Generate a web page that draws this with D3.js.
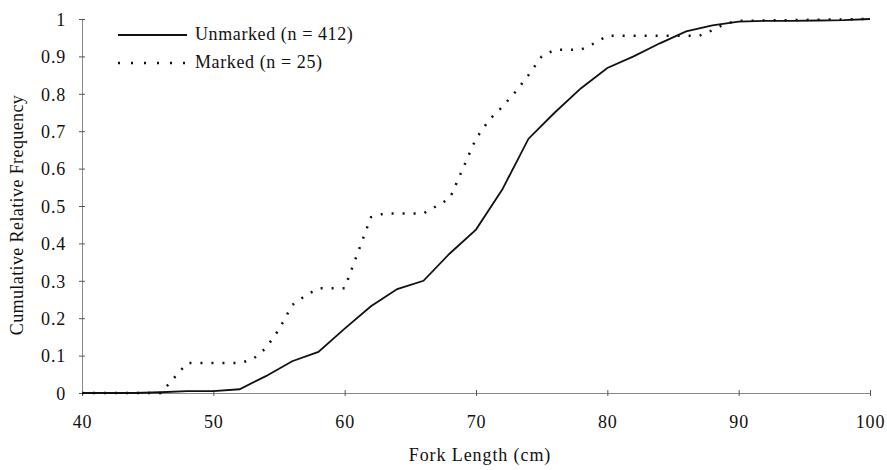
<!DOCTYPE html>
<html>
<head>
<meta charset="utf-8">
<script src="https://cdn.jsdelivr.net/npm/d3@7"></script>
<style>
  body { margin: 0; background: #fff; }
  svg text { font-family: "Liberation Serif", "Times New Roman", serif; fill: #111; }
</style>
</head>
<body>
<script>
// x values for each series (fork length, cm)
var unmarked_x = [40, 42, 44, 46, 48, 50, 52, 54, 56, 58, 60, 62, 64, 66, 68, 70, 72, 74, 76, 78, 80, 82, 84, 86, 88, 90, 92, 94, 96, 98, 100];
var unmarked_y = [0, 0, 0, 0.002, 0.005, 0.005, 0.01, 0.045, 0.085, 0.11, 0.172, 0.232, 0.278, 0.3, 0.373, 0.437, 0.544, 0.68, 0.75, 0.815, 0.869, 0.9, 0.935, 0.967, 0.983, 0.993, 0.995, 0.995, 0.996, 0.997, 1];

var marked_x = [40, 46, 47, 48, 52, 53, 54, 55, 56, 57, 58, 60, 61, 62, 63, 66, 67, 68, 69, 70, 71, 72, 73, 74, 75, 76, 78, 79, 80, 87, 88, 89, 90, 100];
var marked_y = [0, 0, 0.04, 0.08, 0.08, 0.09, 0.12, 0.17, 0.235, 0.26, 0.28, 0.28, 0.375, 0.47, 0.48, 0.48, 0.5, 0.52, 0.6, 0.68, 0.73, 0.765, 0.805, 0.85, 0.9, 0.918, 0.918, 0.935, 0.955, 0.955, 0.97, 0.988, 0.995, 1];

var x_ticks = [40, 50, 60, 70, 80, 90, 100];
var y_ticks = [0, 0.1, 0.2, 0.3, 0.4, 0.5, 0.6, 0.7, 0.8, 0.9, 1];

var legend_labels = ["Unmarked (n = 412)", "Marked (n = 25)"];

var width = 887, height = 470;
var plotLeft = 82, plotRight = 870, plotTop = 19, plotBottom = 393;

var svg = d3.select("body").append("svg")
    .attr("width", width)
    .attr("height", height);

var x = d3.scaleLinear().domain([40, 100]).range([plotLeft, plotRight]);
var y = d3.scaleLinear().domain([0, 1]).range([plotBottom, plotTop]);

// axes
var xAxis = d3.axisBottom(x).tickValues(x_ticks).tickSize(3).tickFormat(d3.format("d"));
var yAxis = d3.axisLeft(y).tickValues(y_ticks).tickSize(3)
    .tickFormat(function(d) { return d === 0 || d === 1 ? String(d) : d3.format(".1f")(d); });

var gx = svg.append("g")
    .attr("transform", "translate(0," + plotBottom + ")")
    .call(xAxis);
var gy = svg.append("g")
    .attr("transform", "translate(" + plotLeft + ",0)")
    .call(yAxis);

gx.select(".domain").attr("stroke", "#888").attr("stroke-width", 1);
gy.select(".domain").attr("stroke", "#888").attr("stroke-width", 1);

// ticks cross the axis line
gx.selectAll(".tick line").attr("y1", -3).attr("y2", 3).attr("stroke", "#555");
gy.selectAll(".tick line").attr("x1", -3).attr("x2", 3).attr("stroke", "#555");

gx.selectAll(".tick text")
    .attr("y", 35)
    .attr("dy", 0)
    .style("font-size", "18px")
    .style("letter-spacing", "0.8px")
    .attr("font-family", null);
gy.selectAll(".tick text")
    .attr("x", -16)
    .attr("dy", "0.35em")
    .style("font-size", "18px")
    .style("letter-spacing", "0.8px")
    .attr("font-family", null);

// axis titles
svg.append("text")
    .text("Fork Length (cm)")
    .attr("x", (plotLeft + plotRight) / 2 + 4)
    .attr("y", 461)
    .attr("text-anchor", "middle")
    .style("font-size", "18px")
    .style("letter-spacing", "0.9px");

svg.append("text")
    .text("Cumulative Relative Frequency")
    .attr("transform", "translate(23," + 215 + ") rotate(-90)")
    .attr("text-anchor", "middle")
    .style("font-size", "18px")
    .style("letter-spacing", "0.4px");

// lines
var line = d3.line()
    .x(function(d) { return x(d[0]); })
    .y(function(d) { return y(d[1]); });

svg.append("path")
    .datum(d3.zip(marked_x, marked_y))
    .attr("d", line)
    .attr("fill", "none")
    .attr("stroke", "#111")
    .attr("stroke-width", 2.5)
    .attr("stroke-dasharray", "2,9");

svg.append("path")
    .datum(d3.zip(unmarked_x, unmarked_y))
    .attr("d", line)
    .attr("fill", "none")
    .attr("stroke", "#111")
    .attr("stroke-width", 1.8);

// legend
var legend = svg.append("g");
legend_labels.forEach(function(label, i) {
    let ly = 35 + i * 28;
    legend.append("line")
        .attr("x1", 118).attr("x2", 187)
        .attr("y1", ly).attr("y2", ly)
        .attr("stroke", "#111")
        .attr("stroke-width", i === 0 ? 1.8 : 2.5)
        .attr("stroke-dasharray", i === 0 ? null : "2,11");
    legend.append("text")
        .text(label)
        .attr("x", 195)
        .attr("y", ly + 5)
        .style("font-size", "18px")
        .style("letter-spacing", "0.6px");
});
</script>
</body>
</html>
